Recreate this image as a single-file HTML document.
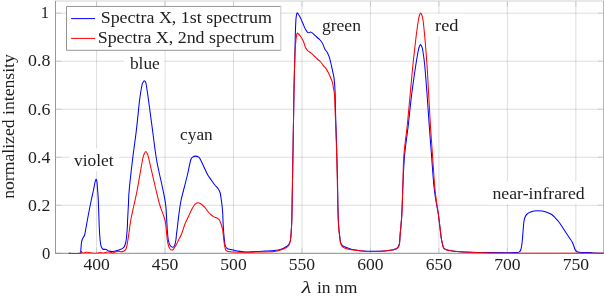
<!DOCTYPE html>
<html><head><meta charset="utf-8"><style>
html,body{margin:0;padding:0;background:#fff;width:604px;height:298px;overflow:hidden}
svg{display:block}
g.t{filter:grayscale(1)}
text{font-family:"Liberation Serif", serif}
</style></head><body>
<svg width="604" height="298" viewBox="0 0 604 298">
<defs><clipPath id="c"><rect x="55.50" y="1.00" width="548.00" height="252.55"/></clipPath></defs>
<g stroke="#000" stroke-opacity="0.135" stroke-width="1"><line x1="96.58" y1="1.00" x2="96.58" y2="253.30"/><line x1="165.04" y1="1.00" x2="165.04" y2="253.30"/><line x1="233.51" y1="1.00" x2="233.51" y2="253.30"/><line x1="301.97" y1="1.00" x2="301.97" y2="253.30"/><line x1="370.44" y1="1.00" x2="370.44" y2="253.30"/><line x1="438.90" y1="1.00" x2="438.90" y2="253.30"/><line x1="507.37" y1="1.00" x2="507.37" y2="253.30"/><line x1="575.83" y1="1.00" x2="575.83" y2="253.30"/><line x1="55.50" y1="205.28" x2="603.50" y2="205.28"/><line x1="55.50" y1="157.26" x2="603.50" y2="157.26"/><line x1="55.50" y1="109.24" x2="603.50" y2="109.24"/><line x1="55.50" y1="61.22" x2="603.50" y2="61.22"/><line x1="55.50" y1="13.20" x2="603.50" y2="13.20"/></g>
<rect x="69.00" y="148.50" width="50.00" height="22.70" fill="#fff"/>
<rect x="124.00" y="51.50" width="40.30" height="23.00" fill="#fff"/>
<rect x="174.50" y="120.00" width="43.50" height="28.00" fill="#fff"/>
<rect x="317.00" y="17.90" width="49.00" height="21.30" fill="#fff"/>
<rect x="429.70" y="13.60" width="34.70" height="22.60" fill="#fff"/>
<rect x="487.50" y="181.50" width="103.00" height="22.80" fill="#fff"/>
<g stroke="#c4c4c4" stroke-width="0.8"><line x1="96.58" y1="253.30" x2="96.58" y2="247.80"/><line x1="96.58" y1="1.00" x2="96.58" y2="6.50"/><line x1="165.04" y1="253.30" x2="165.04" y2="247.80"/><line x1="165.04" y1="1.00" x2="165.04" y2="6.50"/><line x1="233.51" y1="253.30" x2="233.51" y2="247.80"/><line x1="233.51" y1="1.00" x2="233.51" y2="6.50"/><line x1="301.97" y1="253.30" x2="301.97" y2="247.80"/><line x1="301.97" y1="1.00" x2="301.97" y2="6.50"/><line x1="370.44" y1="253.30" x2="370.44" y2="247.80"/><line x1="370.44" y1="1.00" x2="370.44" y2="6.50"/><line x1="438.90" y1="253.30" x2="438.90" y2="247.80"/><line x1="438.90" y1="1.00" x2="438.90" y2="6.50"/><line x1="507.37" y1="253.30" x2="507.37" y2="247.80"/><line x1="507.37" y1="1.00" x2="507.37" y2="6.50"/><line x1="575.83" y1="253.30" x2="575.83" y2="247.80"/><line x1="575.83" y1="1.00" x2="575.83" y2="6.50"/><line x1="55.50" y1="253.30" x2="61.00" y2="253.30"/><line x1="603.50" y1="253.30" x2="598.00" y2="253.30"/><line x1="55.50" y1="205.28" x2="61.00" y2="205.28"/><line x1="603.50" y1="205.28" x2="598.00" y2="205.28"/><line x1="55.50" y1="157.26" x2="61.00" y2="157.26"/><line x1="603.50" y1="157.26" x2="598.00" y2="157.26"/><line x1="55.50" y1="109.24" x2="61.00" y2="109.24"/><line x1="603.50" y1="109.24" x2="598.00" y2="109.24"/><line x1="55.50" y1="61.22" x2="61.00" y2="61.22"/><line x1="603.50" y1="61.22" x2="598.00" y2="61.22"/><line x1="55.50" y1="13.20" x2="61.00" y2="13.20"/><line x1="603.50" y1="13.20" x2="598.00" y2="13.20"/></g><line x1="55.05" y1="1.00" x2="603.95" y2="1.00" stroke="#d2d2d2" stroke-width="1"/><line x1="55.50" y1="1.00" x2="55.50" y2="253.30" stroke="#8c8c8c" stroke-width="0.9"/><line x1="603.50" y1="1.00" x2="603.50" y2="253.30" stroke="#b0b0b0" stroke-width="0.9"/><line x1="55.05" y1="253.30" x2="603.95" y2="253.30" stroke="#7a7a7a" stroke-width="0.9"/>
<g clip-path="url(#c)" fill="none" stroke-width="1.05" stroke-linejoin="round" stroke-linecap="round"><path stroke="#0000ff" d="M69.00 253.40 C70.87 253.37 78.25 253.52 80.20 253.20 C82.15 252.88 80.48 253.28 80.70 251.50 C80.92 249.72 81.22 244.55 81.50 242.50 C81.78 240.45 82.10 240.07 82.40 239.20 C82.70 238.33 82.93 238.00 83.30 237.30 C83.67 236.60 84.22 236.22 84.60 235.00 C84.98 233.78 84.95 233.50 85.60 230.00 C86.25 226.50 87.55 219.00 88.50 214.00 C89.45 209.00 90.47 204.00 91.30 200.00 C92.13 196.00 92.88 192.92 93.50 190.00 C94.12 187.08 94.58 184.28 95.00 182.50 C95.42 180.72 95.68 179.47 96.00 179.30 C96.32 179.13 96.63 179.72 96.90 181.50 C97.17 183.28 97.37 186.92 97.60 190.00 C97.83 193.08 98.02 193.67 98.30 200.00 C98.58 206.33 98.98 221.17 99.30 228.00 C99.62 234.83 99.88 237.92 100.20 241.00 C100.52 244.08 100.73 245.13 101.20 246.50 C101.67 247.87 102.18 248.72 103.00 249.20 C103.82 249.68 105.17 249.12 106.10 249.40 C107.03 249.68 107.48 250.57 108.60 250.90 C109.72 251.23 111.42 251.45 112.80 251.40 C114.18 251.35 115.67 250.90 116.90 250.60 C118.13 250.30 119.10 250.10 120.20 249.60 C121.30 249.10 122.70 248.37 123.50 247.60 C124.30 246.83 124.55 246.27 125.00 245.00 C125.45 243.73 125.82 242.83 126.20 240.00 C126.58 237.17 127.07 231.33 127.30 228.00 C127.53 224.67 127.42 223.83 127.60 220.00 C127.78 216.17 128.13 210.00 128.40 205.00 C128.67 200.00 128.52 197.50 129.20 190.00 C129.88 182.50 131.30 170.00 132.50 160.00 C133.70 150.00 135.22 140.00 136.40 130.00 C137.58 120.00 138.67 107.50 139.60 100.00 C140.53 92.50 141.38 88.00 142.00 85.00 C142.62 82.00 142.90 82.70 143.30 82.00 C143.70 81.30 144.03 80.80 144.40 80.80 C144.77 80.80 145.18 81.30 145.50 82.00 C145.82 82.70 145.80 82.00 146.30 85.00 C146.80 88.00 147.47 92.50 148.50 100.00 C149.53 107.50 151.15 120.00 152.50 130.00 C153.85 140.00 154.85 150.00 156.60 160.00 C158.35 170.00 161.48 182.50 163.00 190.00 C164.52 197.50 165.08 200.00 165.70 205.00 C166.32 210.00 166.43 215.83 166.70 220.00 C166.97 224.17 167.03 226.67 167.30 230.00 C167.57 233.33 167.85 237.45 168.30 240.00 C168.75 242.55 169.28 244.10 170.00 245.30 C170.72 246.50 171.83 247.15 172.60 247.20 C173.37 247.25 174.05 246.80 174.60 245.60 C175.15 244.40 175.58 241.93 175.90 240.00 C176.22 238.07 176.27 236.00 176.50 234.00 C176.73 232.00 177.02 230.33 177.30 228.00 C177.58 225.67 177.83 223.00 178.20 220.00 C178.57 217.00 179.02 213.33 179.50 210.00 C179.98 206.67 180.42 203.33 181.10 200.00 C181.78 196.67 182.55 194.17 183.60 190.00 C184.65 185.83 186.22 180.00 187.40 175.00 C188.58 170.00 189.82 162.97 190.70 160.00 C191.58 157.03 191.87 157.85 192.70 157.20 C193.53 156.55 194.70 156.10 195.70 156.10 C196.70 156.10 197.87 156.55 198.70 157.20 C199.53 157.85 199.78 158.28 200.70 160.00 C201.62 161.72 203.02 165.00 204.20 167.50 C205.38 170.00 206.62 172.92 207.80 175.00 C208.98 177.08 210.13 178.33 211.30 180.00 C212.47 181.67 213.68 183.58 214.80 185.00 C215.92 186.42 217.10 187.17 218.00 188.50 C218.90 189.83 219.65 191.08 220.20 193.00 C220.75 194.92 220.97 197.67 221.30 200.00 C221.63 202.33 221.95 204.50 222.20 207.00 C222.45 209.50 222.63 212.00 222.80 215.00 C222.97 218.00 223.02 221.67 223.20 225.00 C223.38 228.33 223.58 231.67 223.90 235.00 C224.22 238.33 224.57 242.75 225.10 245.00 C225.63 247.25 226.10 247.73 227.10 248.50 C228.10 249.27 229.42 249.18 231.10 249.60 C232.78 250.02 234.85 250.60 237.20 251.00 C239.55 251.40 242.18 251.90 245.20 252.00 C248.22 252.10 251.93 251.75 255.30 251.60 C258.67 251.45 262.22 251.28 265.40 251.10 C268.58 250.92 271.78 250.80 274.40 250.50 C277.02 250.20 279.15 249.92 281.10 249.30 C283.05 248.68 284.78 247.68 286.10 246.80 C287.42 245.92 288.27 245.13 289.00 244.00 C289.73 242.87 290.13 242.00 290.50 240.00 C290.87 238.00 290.98 235.33 291.20 232.00 C291.42 228.67 291.65 224.50 291.80 220.00 C291.95 215.50 291.97 212.50 292.10 205.00 C292.23 197.50 292.43 185.00 292.60 175.00 C292.77 165.00 292.93 155.00 293.10 145.00 C293.27 135.00 293.43 125.00 293.60 115.00 C293.77 105.00 293.88 95.00 294.10 85.00 C294.32 75.00 294.70 63.33 294.90 55.00 C295.10 46.67 295.13 40.83 295.30 35.00 C295.47 29.17 295.70 23.33 295.90 20.00 C296.10 16.67 296.28 16.18 296.50 15.00 C296.72 13.82 296.97 13.13 297.20 12.90 C297.43 12.67 297.52 13.08 297.90 13.60 C298.28 14.12 298.90 14.92 299.50 16.00 C300.10 17.08 300.82 18.58 301.50 20.10 C302.18 21.62 302.92 23.52 303.60 25.10 C304.28 26.68 304.93 28.38 305.60 29.60 C306.27 30.82 307.02 31.88 307.60 32.40 C308.18 32.92 308.60 32.77 309.10 32.70 C309.60 32.63 310.02 31.92 310.60 32.00 C311.18 32.08 311.83 32.58 312.60 33.20 C313.37 33.82 314.10 34.70 315.20 35.70 C316.30 36.70 318.18 38.23 319.20 39.20 C320.22 40.17 320.62 40.52 321.30 41.50 C321.98 42.48 322.72 43.83 323.30 45.10 C323.88 46.37 324.13 47.87 324.80 49.10 C325.47 50.33 326.55 51.15 327.30 52.50 C328.05 53.85 328.75 55.62 329.30 57.20 C329.85 58.78 330.08 59.85 330.60 62.00 C331.12 64.15 331.85 67.57 332.40 70.10 C332.95 72.63 333.52 74.72 333.90 77.20 C334.28 79.68 334.48 82.03 334.70 85.00 C334.92 87.97 335.05 90.00 335.20 95.00 C335.35 100.00 335.37 106.67 335.60 115.00 C335.83 123.33 336.30 135.00 336.60 145.00 C336.90 155.00 337.18 165.00 337.40 175.00 C337.62 185.00 337.70 196.67 337.90 205.00 C338.10 213.33 338.32 219.98 338.60 225.00 C338.88 230.02 339.30 232.35 339.60 235.10 C339.90 237.85 340.03 239.88 340.40 241.50 C340.77 243.12 341.12 243.92 341.80 244.80 C342.48 245.68 342.93 246.07 344.50 246.80 C346.07 247.53 348.92 248.60 351.20 249.20 C353.48 249.80 355.52 250.05 358.20 250.40 C360.88 250.75 364.43 251.15 367.30 251.30 C370.17 251.45 372.55 251.35 375.40 251.30 C378.25 251.25 381.62 251.22 384.40 251.00 C387.18 250.78 390.15 250.37 392.10 250.00 C394.05 249.63 395.05 249.38 396.10 248.80 C397.15 248.22 397.83 247.47 398.40 246.50 C398.97 245.53 399.22 244.90 399.50 243.00 C399.78 241.10 399.85 238.10 400.10 235.10 C400.35 232.10 400.72 228.35 401.00 225.00 C401.28 221.65 401.57 219.17 401.80 215.00 C402.03 210.83 402.22 205.00 402.40 200.00 C402.58 195.00 402.53 192.50 402.90 185.00 C403.27 177.50 403.70 165.00 404.60 155.00 C405.50 145.00 407.13 135.00 408.30 125.00 C409.47 115.00 410.35 105.00 411.60 95.00 C412.85 85.00 414.67 72.50 415.80 65.00 C416.93 57.50 417.77 53.17 418.40 50.00 C419.03 46.83 419.25 46.90 419.60 46.00 C419.95 45.10 420.18 44.60 420.50 44.60 C420.82 44.60 421.13 45.10 421.50 46.00 C421.87 46.90 422.17 46.83 422.70 50.00 C423.23 53.17 423.97 57.50 424.70 65.00 C425.43 72.50 426.35 85.00 427.10 95.00 C427.85 105.00 428.47 115.00 429.20 125.00 C429.93 135.00 430.73 145.00 431.50 155.00 C432.27 165.00 433.08 177.50 433.80 185.00 C434.52 192.50 435.10 195.50 435.80 200.00 C436.50 204.50 437.55 209.50 438.00 212.00 C438.45 214.50 438.17 212.33 438.50 215.00 C438.83 217.67 439.55 224.17 440.00 228.00 C440.45 231.83 440.83 235.50 441.20 238.00 C441.57 240.50 441.82 241.37 442.20 243.00 C442.58 244.63 442.93 246.72 443.50 247.80 C444.07 248.88 444.50 249.05 445.60 249.50 C446.70 249.95 448.17 250.17 450.10 250.50 C452.03 250.83 453.83 251.20 457.20 251.50 C460.57 251.80 464.83 252.12 470.30 252.30 C475.77 252.48 482.47 252.55 490.00 252.60 C497.53 252.65 510.62 252.72 515.50 252.60 C520.38 252.48 518.40 252.42 519.30 251.90 C520.20 251.38 520.47 250.82 520.90 249.50 C521.33 248.18 521.62 246.08 521.90 244.00 C522.18 241.92 522.37 239.67 522.60 237.00 C522.83 234.33 523.07 230.67 523.30 228.00 C523.53 225.33 523.70 222.83 524.00 221.00 C524.30 219.17 524.58 218.17 525.10 217.00 C525.62 215.83 526.27 214.78 527.10 214.00 C527.93 213.22 528.92 212.80 530.10 212.30 C531.28 211.80 533.02 211.27 534.20 211.00 C535.38 210.73 535.87 210.70 537.20 210.70 C538.53 210.70 540.52 210.70 542.20 211.00 C543.88 211.30 545.70 211.92 547.30 212.50 C548.90 213.08 550.47 213.58 551.80 214.50 C553.13 215.42 554.18 216.83 555.30 218.00 C556.42 219.17 557.55 220.33 558.50 221.50 C559.45 222.67 559.88 223.33 561.00 225.00 C562.12 226.67 563.83 229.42 565.20 231.50 C566.57 233.58 568.03 235.75 569.20 237.50 C570.37 239.25 571.43 240.58 572.20 242.00 C572.97 243.42 573.33 244.75 573.80 246.00 C574.27 247.25 574.50 248.58 575.00 249.50 C575.50 250.42 576.13 251.03 576.80 251.50 C577.47 251.97 578.08 252.13 579.00 252.30 C579.92 252.47 580.47 252.45 582.30 252.50 C584.13 252.55 588.05 252.50 590.00 252.60 C591.95 252.70 591.67 252.98 594.00 253.10 C596.33 253.22 602.33 253.27 604.00 253.30"/><path stroke="#ff0000" d="M69.00 253.40 C70.90 253.37 78.38 253.55 80.40 253.20 C82.42 252.85 80.67 251.30 81.10 251.30 C81.53 251.30 82.20 253.03 83.00 253.20 C83.80 253.37 84.93 252.43 85.90 252.30 C86.87 252.17 87.83 252.27 88.80 252.40 C89.77 252.53 90.33 252.97 91.70 253.10 C93.07 253.23 95.55 253.33 97.00 253.20 C98.45 253.07 99.43 252.33 100.40 252.30 C101.37 252.27 101.85 253.00 102.80 253.00 C103.75 253.00 104.98 252.45 106.10 252.30 C107.22 252.15 108.38 252.00 109.50 252.10 C110.62 252.20 111.83 252.93 112.80 252.90 C113.77 252.87 114.33 252.17 115.30 251.90 C116.27 251.63 117.65 251.33 118.60 251.30 C119.55 251.27 120.18 251.72 121.00 251.70 C121.82 251.68 122.73 251.55 123.50 251.20 C124.27 250.85 125.05 250.42 125.60 249.60 C126.15 248.78 126.42 247.90 126.80 246.30 C127.18 244.70 127.52 242.38 127.90 240.00 C128.28 237.62 128.62 235.33 129.10 232.00 C129.58 228.67 129.98 224.50 130.80 220.00 C131.62 215.50 132.93 210.00 134.00 205.00 C135.07 200.00 135.78 197.50 137.20 190.00 C138.62 182.50 141.33 166.00 142.50 160.00 C143.67 154.00 143.65 155.42 144.20 154.00 C144.75 152.58 145.27 151.50 145.80 151.50 C146.33 151.50 146.85 152.58 147.40 154.00 C147.95 155.42 147.67 154.00 149.10 160.00 C150.53 166.00 154.22 182.50 156.00 190.00 C157.78 197.50 158.40 200.33 159.80 205.00 C161.20 209.67 163.40 214.67 164.40 218.00 C165.40 221.33 165.32 221.33 165.80 225.00 C166.28 228.67 166.83 236.50 167.30 240.00 C167.77 243.50 168.12 244.47 168.60 246.00 C169.08 247.53 169.70 248.52 170.20 249.20 C170.70 249.88 171.08 250.08 171.60 250.10 C172.12 250.12 172.55 250.15 173.30 249.30 C174.05 248.45 175.22 246.55 176.10 245.00 C176.98 243.45 177.77 241.67 178.60 240.00 C179.43 238.33 180.38 236.67 181.10 235.00 C181.82 233.33 182.32 231.67 182.90 230.00 C183.48 228.33 183.97 226.67 184.60 225.00 C185.23 223.33 185.93 221.67 186.70 220.00 C187.47 218.33 188.42 216.67 189.20 215.00 C189.98 213.33 190.53 211.67 191.40 210.00 C192.27 208.33 193.58 206.12 194.40 205.00 C195.22 203.88 195.70 203.67 196.30 203.30 C196.90 202.93 197.42 202.80 198.00 202.80 C198.58 202.80 199.08 202.93 199.80 203.30 C200.52 203.67 201.38 204.22 202.30 205.00 C203.22 205.78 204.30 206.83 205.30 208.00 C206.30 209.17 207.30 210.83 208.30 212.00 C209.30 213.17 210.35 214.18 211.30 215.00 C212.25 215.82 213.07 216.40 214.00 216.90 C214.93 217.40 216.00 217.48 216.90 218.00 C217.80 218.52 218.65 218.83 219.40 220.00 C220.15 221.17 220.85 223.33 221.40 225.00 C221.95 226.67 222.33 227.83 222.70 230.00 C223.07 232.17 223.30 235.50 223.60 238.00 C223.90 240.50 224.17 243.03 224.50 245.00 C224.83 246.97 225.10 248.77 225.60 249.80 C226.10 250.83 226.25 250.83 227.50 251.20 C228.75 251.57 230.15 251.82 233.10 252.00 C236.05 252.18 241.17 252.30 245.20 252.30 C249.23 252.30 252.43 252.13 257.30 252.00 C262.17 251.87 270.43 251.87 274.40 251.50 C278.37 251.13 279.25 250.38 281.10 249.80 C282.95 249.22 284.25 248.67 285.50 248.00 C286.75 247.33 287.80 246.97 288.60 245.80 C289.40 244.63 289.87 243.30 290.30 241.00 C290.73 238.70 290.95 235.50 291.20 232.00 C291.45 228.50 291.65 224.50 291.80 220.00 C291.95 215.50 291.97 212.50 292.10 205.00 C292.23 197.50 292.43 185.00 292.60 175.00 C292.77 165.00 292.93 155.00 293.10 145.00 C293.27 135.00 293.43 125.00 293.60 115.00 C293.77 105.00 293.88 95.00 294.10 85.00 C294.32 75.00 294.67 61.67 294.90 55.00 C295.13 48.33 295.27 48.00 295.50 45.00 C295.73 42.00 296.02 38.97 296.30 37.00 C296.58 35.03 296.83 33.70 297.20 33.20 C297.57 32.70 297.98 33.53 298.50 34.00 C299.02 34.47 299.62 35.05 300.30 36.00 C300.98 36.95 301.95 38.45 302.60 39.70 C303.25 40.95 303.68 42.10 304.20 43.50 C304.72 44.90 305.03 46.83 305.70 48.10 C306.37 49.37 307.28 50.25 308.20 51.10 C309.12 51.95 310.20 52.38 311.20 53.20 C312.20 54.02 313.18 55.03 314.20 56.00 C315.22 56.97 316.28 58.08 317.30 59.00 C318.32 59.92 319.30 60.40 320.30 61.50 C321.30 62.60 322.30 64.33 323.30 65.60 C324.30 66.87 325.47 67.93 326.30 69.10 C327.13 70.27 327.62 71.25 328.30 72.60 C328.98 73.95 329.72 75.60 330.40 77.20 C331.08 78.80 331.90 80.40 332.40 82.20 C332.90 84.00 333.05 85.87 333.40 88.00 C333.75 90.13 334.18 90.50 334.50 95.00 C334.82 99.50 334.98 106.67 335.30 115.00 C335.62 123.33 336.08 135.00 336.40 145.00 C336.72 155.00 336.97 165.00 337.20 175.00 C337.43 185.00 337.58 196.67 337.80 205.00 C338.02 213.33 338.22 219.98 338.50 225.00 C338.78 230.02 339.18 232.25 339.50 235.10 C339.82 237.95 339.98 240.25 340.40 242.10 C340.82 243.95 341.22 245.18 342.00 246.20 C342.78 247.22 343.57 247.62 345.10 248.20 C346.63 248.78 349.02 249.30 351.20 249.70 C353.38 250.10 355.52 250.30 358.20 250.60 C360.88 250.90 364.43 251.35 367.30 251.50 C370.17 251.65 372.55 251.57 375.40 251.50 C378.25 251.43 381.62 251.33 384.40 251.10 C387.18 250.87 390.15 250.45 392.10 250.10 C394.05 249.75 395.02 249.57 396.10 249.00 C397.18 248.43 398.02 247.68 398.60 246.70 C399.18 245.72 399.35 245.03 399.60 243.10 C399.85 241.17 399.87 238.12 400.10 235.10 C400.33 232.08 400.72 228.35 401.00 225.00 C401.28 221.65 401.57 219.17 401.80 215.00 C402.03 210.83 402.22 205.00 402.40 200.00 C402.58 195.00 402.65 192.50 402.90 185.00 C403.15 177.50 403.17 165.00 403.90 155.00 C404.63 145.00 406.27 135.00 407.30 125.00 C408.33 115.00 409.17 105.00 410.10 95.00 C411.03 85.00 412.12 72.83 412.90 65.00 C413.68 57.17 414.23 53.00 414.80 48.00 C415.37 43.00 415.70 39.67 416.30 35.00 C416.90 30.33 417.85 23.33 418.40 20.00 C418.95 16.67 419.22 16.18 419.60 15.00 C419.98 13.82 420.33 12.90 420.70 12.90 C421.07 12.90 421.42 13.82 421.80 15.00 C422.18 16.18 422.53 16.67 423.00 20.00 C423.47 23.33 423.93 27.50 424.60 35.00 C425.27 42.50 426.32 55.00 427.00 65.00 C427.68 75.00 428.13 85.00 428.70 95.00 C429.27 105.00 429.77 115.00 430.40 125.00 C431.03 135.00 431.80 145.00 432.50 155.00 C433.20 165.00 433.97 177.50 434.60 185.00 C435.23 192.50 435.68 195.17 436.30 200.00 C436.92 204.83 437.67 209.33 438.30 214.00 C438.93 218.67 439.60 224.00 440.10 228.00 C440.60 232.00 440.93 235.50 441.30 238.00 C441.67 240.50 441.92 241.33 442.30 243.00 C442.68 244.67 443.05 246.92 443.60 248.00 C444.15 249.08 444.52 249.08 445.60 249.50 C446.68 249.92 448.17 250.17 450.10 250.50 C452.03 250.83 453.83 251.20 457.20 251.50 C460.57 251.80 464.83 252.07 470.30 252.30 C475.77 252.53 482.72 252.73 490.00 252.90 C497.28 253.07 495.00 253.28 514.00 253.35 C533.00 253.42 589.00 253.35 604.00 253.35"/></g>
<g class="t" font-family='"Liberation Serif", serif' font-size="16.60" fill="#1e1e1e"><text x="74.00" y="166.00" textLength="39.69" lengthAdjust="spacingAndGlyphs">violet</text><text x="129.90" y="68.90" textLength="29.90" lengthAdjust="spacingAndGlyphs">blue</text><text x="180.10" y="139.60" textLength="32.60" lengthAdjust="spacingAndGlyphs">cyan</text><text x="321.90" y="30.80" textLength="39.07" lengthAdjust="spacingAndGlyphs">green</text><text x="435.10" y="30.80" textLength="23.44" lengthAdjust="spacingAndGlyphs">red</text><text x="492.50" y="198.50" textLength="92.25" lengthAdjust="spacingAndGlyphs">near-infrared</text><text x="96.58" y="269.90" text-anchor="middle" textLength="26.41" lengthAdjust="spacingAndGlyphs">400</text><text x="165.04" y="269.90" text-anchor="middle" textLength="26.41" lengthAdjust="spacingAndGlyphs">450</text><text x="233.51" y="269.90" text-anchor="middle" textLength="26.41" lengthAdjust="spacingAndGlyphs">500</text><text x="301.97" y="269.90" text-anchor="middle" textLength="26.41" lengthAdjust="spacingAndGlyphs">550</text><text x="370.44" y="269.90" text-anchor="middle" textLength="26.41" lengthAdjust="spacingAndGlyphs">600</text><text x="438.90" y="269.90" text-anchor="middle" textLength="26.41" lengthAdjust="spacingAndGlyphs">650</text><text x="507.37" y="269.90" text-anchor="middle" textLength="26.41" lengthAdjust="spacingAndGlyphs">700</text><text x="575.83" y="269.90" text-anchor="middle" textLength="26.41" lengthAdjust="spacingAndGlyphs">750</text><text x="50.30" y="259.30" text-anchor="end">0</text><text x="50.30" y="211.28" text-anchor="end" textLength="22.28" lengthAdjust="spacingAndGlyphs">0.2</text><text x="50.30" y="163.26" text-anchor="end" textLength="22.28" lengthAdjust="spacingAndGlyphs">0.4</text><text x="50.30" y="115.24" text-anchor="end" textLength="22.28" lengthAdjust="spacingAndGlyphs">0.6</text><text x="50.30" y="66.32" text-anchor="end" textLength="22.28" lengthAdjust="spacingAndGlyphs">0.8</text><text x="49.00" y="18.30" text-anchor="end">1</text><text x="301.4" y="292.5" font-style="italic" textLength="9.9" lengthAdjust="spacingAndGlyphs">λ</text><text x="316.90" y="292.50" textLength="40.50" lengthAdjust="spacingAndGlyphs">in nm</text><text x="0.00" y="0.00" text-anchor="middle" transform="translate(14.0,126.5) rotate(-90)" textLength="144.58" lengthAdjust="spacingAndGlyphs">normalized intensity</text></g>
<g font-family='"Liberation Serif", serif' font-size="16.60" fill="#000"><rect x="66.5" y="6.45" width="214.3" height="43.85" fill="#fff" stroke="none"/><path d="M280.8 6.45 H66.5 V50.3 H280.8" fill="none" stroke="#8a8a8a" stroke-width="0.9"/><line x1="280.8" y1="6.0" x2="280.8" y2="50.75" stroke="#c4c4c4" stroke-width="0.9"/><line x1="71.1" y1="18.6" x2="95.1" y2="18.6" stroke="#0000ff" stroke-width="1.0"/><line x1="71.1" y1="38.4" x2="95.1" y2="38.4" stroke="#ff0000" stroke-width="1.0"/></g>
<g class="t" font-family='"Liberation Serif", serif' font-size="16.60" fill="#1e1e1e"><text x="100.70" y="22.80" textLength="171.25" lengthAdjust="spacingAndGlyphs">Spectra X, 1st spectrum</text><text x="97.70" y="42.70" textLength="176.93" lengthAdjust="spacingAndGlyphs">Spectra X, 2nd spectrum</text></g>
</svg></body></html>
